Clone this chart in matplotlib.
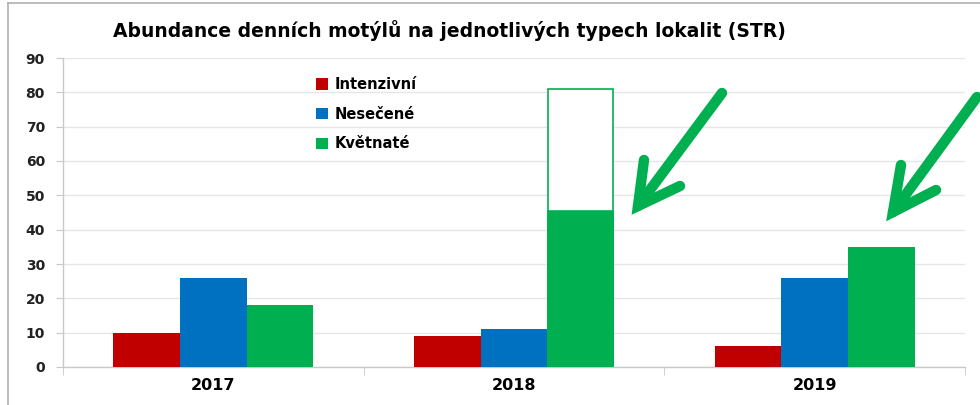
import matplotlib.pyplot as plt
import numpy as np
from matplotlib.lines import Line2D

years = ['2017', '2018', '2019']
series_names = ['Intenzivní', 'Nesečené', 'Květnaté']
intenzivni = [10, 9, 6]
nesecene = [26, 11, 26]
kvetnate = [18, 45.5, 35]
# outlined box above the 2018 green bar
box_top = [None, 81, None]

colors = ['#C00000', '#0070C0', '#00B050']
W, H = 980, 405
narrow = ['Liberation Sans Narrow', 'DejaVu Sans Condensed', 'DejaVu Sans']

fig = plt.figure(figsize=(W / 100, H / 100), dpi=100)
ax = fig.add_axes([63 / W, 38 / H, (965 - 63) / W, (367 - 58) / H])

x = np.arange(len(years))
width = 0.222
for i, (vals, name) in enumerate(zip([intenzivni, nesecene, kvetnate], series_names)):
    ax.bar(x + (i - 1) * width, vals, width, color=colors[i], label=name, zorder=3)

for xi, top, base in zip(x, box_top, kvetnate):
    if top is not None:
        ax.bar(xi + width, top - base, width * 0.98, bottom=base, facecolor='white',
               edgecolor=colors[2], linewidth=1.2, zorder=3)

ax.set_xlim(-0.5, 2.5)
ax.set_ylim(0, 90)
ax.set_yticks(range(0, 91, 10))
ax.set_xticks(x)
ax.set_xticklabels(years, family=narrow, fontweight='bold', fontsize=11.5)
ax.set_xticks([-0.5, 0.5, 1.5, 2.5], minor=True)
ax.tick_params(axis='x', which='major', length=0, pad=8)
ax.tick_params(axis='x', which='minor', length=6, color='#c8c8c8', direction='out')
ax.tick_params(axis='y', length=5, color='#c8c8c8', pad=8)
for lab in ax.get_yticklabels():
    lab.set_fontweight('bold')
    lab.set_fontsize(10)
    lab.set_color('#222222')

ax.grid(True, axis='y', color='#e6e6e6', linewidth=1, zorder=0)
for s in ['top', 'right']:
    ax.spines[s].set_visible(False)
for s in ['left', 'bottom']:
    ax.spines[s].set_color('#c8c8c8')
    ax.spines[s].set_linewidth(1)

ax.legend(loc='upper left', bbox_to_anchor=((303 - 63) / (965 - 63), 1 - (64 - 58) / (367 - 58)),
          frameon=False, handlelength=0.8, handleheight=0.8, handletextpad=0.45,
          labelspacing=1.0, prop={'weight': 'bold', 'size': 10.5})

fig.text(113 / W, 1 - 31 / H, 'Abundance denních motýlů na jednotlivých typech lokalit (STR)',
         family=narrow, fontweight='bold', fontsize=13.5, va='center', ha='left')

# border lines
fig.add_artist(Line2D([8 / W, 1], [1 - 3 / H, 1 - 3 / H], color='#b0b0b0', lw=1.2))
fig.add_artist(Line2D([8 / W, 8 / W], [0, 1 - 3 / H], color='#b0b0b0', lw=1.2))


def arrow(tail, tip, b1, b2):
    px = lambda p: (p[0] / W, 1 - p[1] / H)
    t, s, a, b = px(tail), px(tip), px(b1), px(b2)
    g = '#00B050'
    fig.add_artist(Line2D([t[0], s[0]], [t[1], s[1]], color=g, lw=7.5, solid_capstyle='round'))
    fig.add_artist(Line2D([a[0], s[0], b[0]], [a[1], s[1], b[1]], color=g, lw=7.5,
                          solid_capstyle='round', solid_joinstyle='miter'))


arrow((722, 93), (638, 206), (644, 160), (680, 186))
arrow((977, 97), (893, 212), (901, 165), (936, 190))

plt.savefig('out.png', dpi=100)
